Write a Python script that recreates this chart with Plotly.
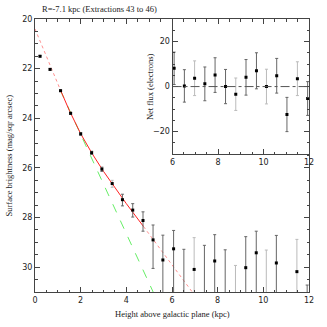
import plotly.graph_objects as go

# main panel: surface brightness profile
height_kpc = [0.22, 0.66, 1.12, 1.56, 2.00, 2.48, 2.93, 3.38, 3.83, 4.28, 4.73, 5.17, 5.60,
              6.07, 6.52, 6.97, 7.42, 7.87, 8.33, 8.78, 9.23, 9.69, 10.13, 10.57, 11.47, 11.92]
sb_mag = [21.50, 22.03, 22.89, 23.80, 24.63, 25.39, 26.05, 26.63, 27.28, 27.70, 28.12, 28.90, 29.71,
          29.26, 32.20, 30.09, 31.30, 29.75, 32.50, 33.00, 30.02, 29.42, 32.50, 29.83, 30.18, 33.00]
sb_err_up = [0.03, 0.03, 0.03, 0.04, 0.05, 0.06, 0.08, 0.13, 0.22, 0.26, 0.35, 0.60, 1.00,
             0.74, 2.92, 1.28, 2.18, 1.06, 3.20, 3.07, 1.25, 0.87, 3.19, 1.11, 1.30, 2.28]
sb_err_down = [0.03, 0.03, 0.03, 0.04, 0.05, 0.06, 0.09, 0.15, 0.25, 0.28, 0.43, 1.15, 3.0,
               3.0, 0.0, 3.0, 0.0, 3.0, 0.0, 0.0, 3.0, 3.0, 0.0, 3.0, 3.0, 0.0]
sb_light = [0, 0, 0, 0, 0, 0, 0, 1, 0, 0, 0, 0, 0,
            0, 0, 1, 0, 0, 0, 1, 0, 0, 1, 0, 1, 0]

# two-component fit (red) and thin disk (green)
fit_x = [0.0, 0.5, 1.1, 1.5, 2.0, 2.5, 3.0, 3.5, 4.0, 4.75, 5.5, 6.0, 6.5, 7.0]
fit_mag = [20.40, 21.52, 22.83, 23.68, 24.62, 25.42, 26.14, 26.80, 27.44, 28.36, 29.28, 29.90, 30.52, 31.14]
fit_lo, fit_hi = 1.1, 4.75
thin_x = [1.1, 5.2]
thin_mag = [22.85, 31.05]

# inset: net flux
flux_x = [6.07, 6.52, 6.97, 7.42, 7.87, 8.33, 8.78, 9.23, 9.69, 10.13, 10.58, 11.03, 11.49, 11.94]
flux = [8.1, 0.3, 3.7, 1.2, 5.1, 0.0, -3.4, 4.1, 7.0, 0.0, 4.8, -12.4, 3.5, -5.3]
flux_err = [7.2, 7.2, 7.7, 7.5, 7.7, 7.6, 7.2, 7.9, 8.0, 7.7, 7.7, 7.6, 7.5, 7.5]
flux_light = [0, 0, 1, 0, 0, 0, 1, 0, 0, 1, 0, 0, 1, 0]

DARK = "#666666"
LIGHT = "#bbbbbb"
AX = "#444444"
SERIF = "Liberation Serif"
SANS = "DejaVu Sans"
TXT = "#222222"
INSET_X0 = 0.502

fig = go.Figure()

# fit curves
inner = [(x, m) for x, m in zip(fit_x, fit_mag) if fit_lo <= x <= fit_hi]
left = [(x, m) for x, m in zip(fit_x, fit_mag) if x <= fit_lo]
right = [(x, m) for x, m in zip(fit_x, fit_mag) if x >= fit_hi]
for seg in (left, right):
    fig.add_trace(go.Scatter(x=[p[0] for p in seg], y=[p[1] for p in seg], mode="lines",
                             line=dict(color="#ff9090", width=1, dash="dot"),
                             xaxis="x", yaxis="y"))
fig.add_trace(go.Scatter(x=thin_x, y=thin_mag, mode="lines",
                         line=dict(color="#66ee66", width=1, dash="dash"),
                         xaxis="x", yaxis="y"))
fig.add_trace(go.Scatter(x=[p[0] for p in inner], y=[p[1] for p in inner], mode="lines",
                         line=dict(color="#ff2020", width=1),
                         xaxis="x", yaxis="y"))

# main data
for flag, col in ((0, DARK), (1, LIGHT)):
    idx = [i for i, f in enumerate(sb_light) if f == flag]
    fig.add_trace(go.Scatter(
        x=[height_kpc[i] for i in idx], y=[sb_mag[i] for i in idx], mode="markers",
        marker=dict(symbol="square", size=3, color="black"),
        error_y=dict(type="data", symmetric=False,
                     array=[sb_err_down[i] for i in idx],
                     arrayminus=[sb_err_up[i] for i in idx],
                     color=col, thickness=1, width=1.5),
        xaxis="x", yaxis="y"))

# inset data
for flag, col in ((0, DARK), (1, LIGHT)):
    idx = [i for i, f in enumerate(flux_light) if f == flag]
    fig.add_trace(go.Scatter(
        x=[flux_x[i] for i in idx], y=[flux[i] for i in idx], mode="markers",
        marker=dict(symbol="square", size=3, color="black"),
        error_y=dict(type="data", array=[flux_err[i] for i in idx],
                     color=col, thickness=1, width=1.5),
        xaxis="x2", yaxis="y2"))

fig.add_shape(type="line", xref="x2 domain", yref="y2", x0=0, x1=1, y0=0, y1=0,
              line=dict(color="#555555", width=1, dash="dashdot"))

axis_common = dict(showline=True, linecolor=AX, linewidth=1, mirror="ticks",
                   ticks="inside", tickcolor=AX, showgrid=False, zeroline=False,
                   automargin=False,
                   tickfont=dict(family=SANS, size=8, color=TXT))

label_font = dict(family=SERIF, size=8.5, color=TXT)

fig.update_layout(
    width=327, height=327,
    margin=dict(l=35, r=18, t=19, b=35, autoexpand=False),
    paper_bgcolor="white", plot_bgcolor="white",
    showlegend=False,
    xaxis=dict(domain=[0, 1], range=[0, 12], dtick=2, ticklen=5,
               minor=dict(dtick=0.5, ticklen=2.5, ticks="inside", tickcolor=AX),
               anchor="y", **axis_common),
    yaxis=dict(domain=[0, 1], range=[31, 20], dtick=2, ticklen=5,
               minor=dict(dtick=0.5, ticklen=2.5, ticks="inside", tickcolor=AX),
               anchor="x", **axis_common),
    xaxis2=dict(domain=[INSET_X0, 1], range=[6, 12], dtick=2, ticklen=5,
                minor=dict(dtick=0.5, ticklen=2.5, ticks="inside", tickcolor=AX),
                anchor="y2", **axis_common),
    yaxis2=dict(domain=[0.505, 1], range=[-30, 30], dtick=20, tick0=0, ticklen=5,
                minor=dict(dtick=5, ticklen=2.5, ticks="inside", tickcolor=AX),
                anchor="x2", **axis_common),
    annotations=[
        dict(text="R=-7.1 kpc (Extractions 43 to 46)", xref="paper", yref="paper",
             x=0.02, y=1.0, xanchor="left", yanchor="bottom", yshift=3,
             showarrow=False, font=label_font),
        dict(text="Height above galactic plane (kpc)", xref="paper", yref="paper",
             x=0.5, y=0, xanchor="center", yanchor="middle", yshift=-22,
             showarrow=False, font=label_font),
        dict(text="Surface brightness (mag/sqr arcsec)", xref="paper", yref="paper",
             x=0, y=0.5, xanchor="center", yanchor="middle", xshift=-27, textangle=-90,
             showarrow=False, font=label_font),
        dict(text="Net flux (electrons)", xref="paper", yref="y2 domain",
             x=INSET_X0, y=0.5, xanchor="center", yanchor="middle", xshift=-23, textangle=-90,
             showarrow=False, font=label_font),
    ],
)

# the page's default body margin would push the figure off by 8px
fig.write_html("out.html", config={"displayModeBar": False},
               post_script="document.body.style.margin = '0';")
